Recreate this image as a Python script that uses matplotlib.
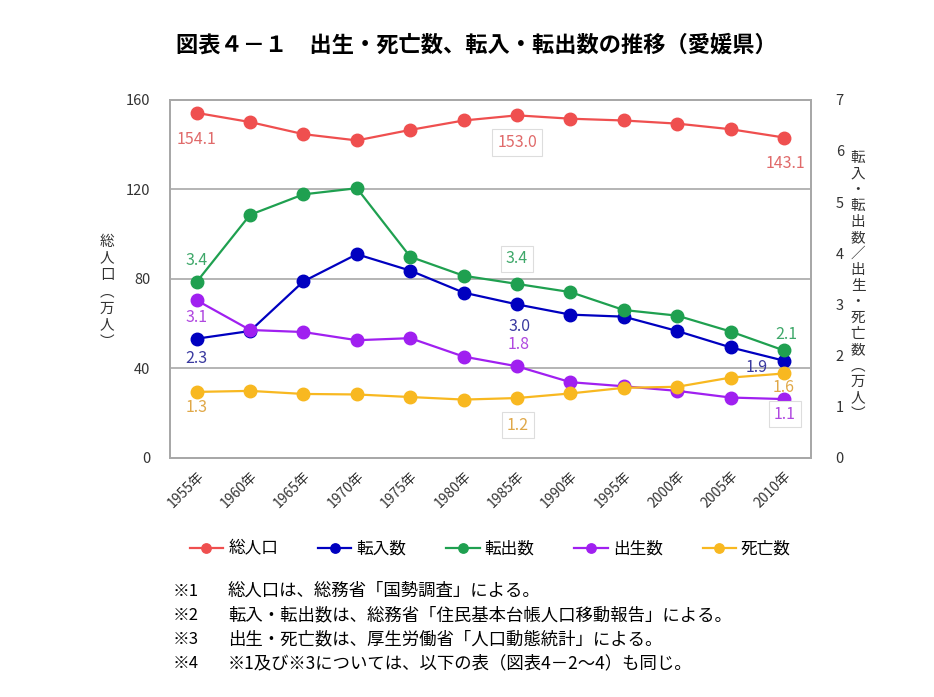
import matplotlib
matplotlib.use('Agg')
import matplotlib.pyplot as plt

plt.rcParams['font.family'] = ['Noto Sans CJK JP', 'DejaVu Sans']

years = ['1955年', '1960年', '1965年', '1970年', '1975年', '1980年',
         '1985年', '1990年', '1995年', '2000年', '2005年', '2010年']

# 総人口 (万人), left axis
total_pop = [154.1, 150.0, 144.6, 141.8, 146.5, 150.7, 153.0, 151.5, 150.7, 149.3, 146.8, 143.1]
# 万人, right axis
moved_in = [2.33, 2.48, 3.45, 3.98, 3.66, 3.23, 3.0, 2.8, 2.76, 2.48, 2.16, 1.9]
moved_out = [3.44, 4.75, 5.15, 5.27, 3.93, 3.56, 3.4, 3.24, 2.89, 2.78, 2.47, 2.1]
births = [3.08, 2.5, 2.46, 2.3, 2.34, 1.98, 1.79, 1.48, 1.4, 1.31, 1.18, 1.15]
deaths = [1.29, 1.31, 1.25, 1.24, 1.19, 1.14, 1.17, 1.26, 1.37, 1.39, 1.57, 1.65]

series_names = ['総人口', '転入数', '転出数', '出生数', '死亡数']
line_colors = ['#ef4f4f', '#0000c0', '#1fa050', '#a020f0', '#f8b820']
label_colors = ['#e06a6a', '#3a3aa0', '#3fa86a', '#b048e0', '#e0a848']

footnote_marks = ['※1', '※2', '※3', '※4']
footnote_texts = ['総人口は、総務省「国勢調査」による。',
                  '転入・転出数は、総務省「住民基本台帳人口移動報告」による。',
                  '出生・死亡数は、厚生労働省「人口動態統計」による。',
                  '※1及び※3については、以下の表（図表4－2～4）も同じ。']

fig = plt.figure(figsize=(9.34, 6.97), dpi=100)
ax = fig.add_axes([0.182, 0.343, 0.686, 0.514])
ax2 = ax.twinx()

x = list(range(len(years)))
grey = '#a8a8a8'

ax.set_xlim(-0.5, len(years) - 0.5)
ax.set_ylim(0, 160)
ax.set_yticks([0, 40, 80, 120, 160])
ax2.set_ylim(0, 7)
ax2.set_yticks(range(8))
ax.grid(axis='y', color=grey, linewidth=1.2)
ax.set_axisbelow(True)
for a in (ax, ax2):
    for s in a.spines.values():
        s.set_color(grey)
        s.set_linewidth(1.4)
ax.tick_params(axis='y', length=0, pad=14, labelsize=10.5, labelcolor='#333333')
ax2.tick_params(axis='y', length=0, pad=18, labelsize=10.5, labelcolor='#333333')
ax.set_xticks(x)
ax.set_xticklabels(years, rotation=45, ha='right', rotation_mode='anchor', fontsize=10, color='#333333')
ax.tick_params(axis='x', length=0, pad=8)

lw, ms = 1.6, 9
handles = []
h, = ax.plot(x, total_pop, '-o', color=line_colors[0], lw=lw, ms=ms, label=series_names[0])
handles.append(h)
for vals, name, c in zip([moved_in, moved_out, births, deaths], series_names[1:], line_colors[1:]):
    h, = ax2.plot(x, vals, '-o', color=c, lw=lw, ms=ms, label=name)
    handles.append(h)
ax2.set_zorder(ax.get_zorder() + 1)
ax2.patch.set_visible(False)

box = dict(boxstyle='square,pad=0.3', fc='white', ec='#dddddd', lw=0.8)

def lab(axis, i, val, dx, dy, color, boxed=False):
    axis.annotate(f'{val:.1f}', (i, val), xytext=(dx, dy), textcoords='offset pixels',
                  ha='center', va='center', fontsize=11.5, color=color,
                  bbox=box if boxed else None)

lab(ax, 0, total_pop[0], 0, -27, label_colors[0])
lab(ax, 6, total_pop[6], 0, -27, label_colors[0], True)
lab(ax, 11, total_pop[11], 1, -26, label_colors[0])
lab(ax2, 0, moved_out[0], 0, 21, label_colors[2])
lab(ax2, 6, moved_out[6], 0, 25, label_colors[2], True)
lab(ax2, 11, moved_out[11], 2, 16, label_colors[2])
lab(ax2, 0, moved_in[0], 0, -20, label_colors[1])
lab(ax2, 6, moved_in[6], 2, -22, label_colors[1])
lab(ax2, 11, moved_in[11], -27, -7, label_colors[1])
lab(ax2, 0, births[0], 0, -17, label_colors[3])
lab(ax2, 6, births[6], 2, 22, label_colors[3])
lab(ax2, 11, births[11], 1, -15, label_colors[3], True)
lab(ax2, 0, deaths[0], 0, -16, label_colors[4])
lab(ax2, 6, deaths[6], 1, -27, label_colors[4], True)
lab(ax2, 11, deaths[11], 0, -14, label_colors[4])

fig.text(0.51, 1 - 45 / 697, '図表４－１　出生・死亡数、転入・転出数の推移（愛媛県）',
         ha='center', va='center', fontsize=16, fontweight='bold')

fig.text(107 / 934, 1 - 292 / 697, '\n'.join('総人口︵万人︶'), ha='center', va='center',
         fontsize=10.5, linespacing=1.25, color='#333333')
fig.text(858 / 934, 1 - 286 / 697, '\n'.join('転入・転出数／出生・死亡数︵万人︶'), ha='center', va='center',
         fontsize=10.5, linespacing=1.18, color='#333333')

fig.legend(handles=handles, loc='center', bbox_to_anchor=(0.525, 1 - 549 / 697), ncol=5,
           frameon=False, fontsize=12, handlelength=2.0, columnspacing=2.4, handletextpad=0.3,
           markerscale=0.75)

for k, (m, t) in enumerate(zip(footnote_marks, footnote_texts)):
    yy = 1 - (591 + 24 * k) / 697
    fig.text(173 / 934, yy, m, ha='left', va='center', fontsize=12)
    fig.text(228 / 934, yy, t, ha='left', va='center', fontsize=12.5)

fig.savefig('out.png', dpi=100)
